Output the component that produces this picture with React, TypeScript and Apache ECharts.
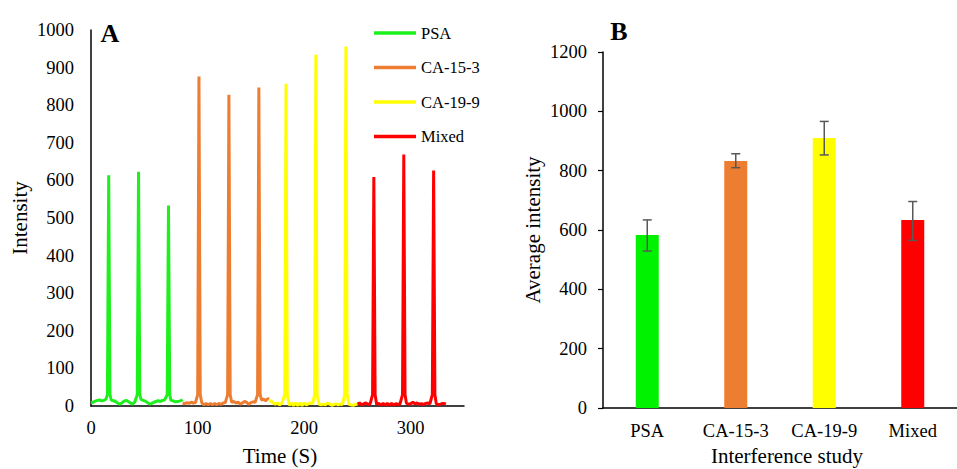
import React, { useEffect, useRef } from "react";
import * as echarts from "echarts";

// Panel A: time-resolved intensity traces
const psaTime = [0, 2, 4, 6, 8, 10, 12, 14, 15.4, 16.6, 17.8, 19, 21, 23, 25, 27, 29, 31, 33, 35, 37, 39, 41, 43.4, 44.6, 45.8, 47, 49, 51, 53, 55, 57, 59, 61, 63, 65, 67, 69, 71.5, 72.7, 73.9, 75, 77, 79, 81, 83, 85, 86];
const psaValue = [8, 10, 13, 15, 16, 14, 15, 18, 30, 614, 30, 16, 14, 12, 8, 5, 8, 13, 15, 12, 8, 5, 10, 30, 623, 30, 17, 15, 13, 9, 5, 7, 10, 12, 14, 12, 15, 16, 30, 533, 30, 15, 14, 11, 12, 13, 15, 17];

const ca153Time = [86, 88, 90, 92, 94, 96, 98, 100.1, 101.3, 102.5, 104, 106, 108, 110, 112, 114, 116, 118, 120, 122, 124, 126, 128.2, 129.4, 130.6, 132, 134, 136, 138, 140, 142, 144, 146, 148, 150, 152, 154, 156.3, 157.5, 158.7, 160, 162, 164, 166, 167];
const ca153Value = [8, 6, 9, 7, 10, 8, 9, 30, 876, 30, 8, 3, 7, 3, 7, 3, 7, 3, 7, 4, 8, 9, 30, 828, 30, 10, 12, 8, 10, 5, 8, 12, 10, 4, 9, 11, 10, 30, 847, 30, 16, 18, 14, 20, 18];

const ca199Time = [167, 169, 171, 173, 175, 177, 179, 181.8, 183, 184.2, 186, 188, 190, 192, 194, 196, 198, 200, 202, 204, 206, 208, 209.8, 211, 212.2, 214, 216, 218, 220, 222, 224, 226, 228, 230, 232, 234, 236, 238, 239.2, 240.4, 242, 244, 246, 248, 250];
const ca199Value = [12, 14, 8, 5, 8, 3, 7, 30, 857, 30, 2, 8, 1, 8, 1, 8, 1, 8, 3, 6, 8, 7, 30, 934, 30, 5, 3, 5, 3, 8, 5, 2, 4, 6, 3, 5, 4, 30, 956, 30, 5, 3, 2, 4, 5];

const mixedTime = [250, 252, 254, 256, 258, 260, 262, 264.2, 265.4, 266.6, 268, 270, 272, 274, 276, 278, 280, 282, 284, 286, 288, 290, 292.3, 293.5, 294.7, 296, 298, 300, 302, 304, 306, 308, 310, 312, 314, 316, 318, 320.3, 321.5, 322.7, 324, 326, 328, 330, 332, 333];
const mixedValue = [5, 8, 3, 6, 8, 4, 6, 30, 609, 30, 4, 7, 2, 7, 2, 7, 2, 7, 3, 6, 4, 6, 30, 669, 30, 7, 5, 6, 10, 6, 8, 5, 6, 4, 7, 8, 6, 30, 626, 30, 6, 3, 5, 7, 6, 5];

// Panel B: average intensity with error bars
const categories = ["PSA", "CA-15-3", "CA-19-9", "Mixed"];
const avgIntensity = [583, 833, 910, 634];
const errUpper = [634, 857, 966, 696];
const errLower = [529, 810, 853, 565];

const colors = ["#00F200", "#ED7D31", "#FFFF00", "#FF0000"];
const lineColors = ["#1EF01E", "#ED7D31", "#FFFF00", "#FF0000"];

const FONT = "Liberation Serif, Times New Roman, serif";

function pairs(t: number[], v: number[]) {
  return t.map((x, i) => [x, v[i]]);
}

export default function App() {
  const ref = useRef<HTMLDivElement>(null);
  useEffect(() => {
    if (!ref.current) return;
    const chart = echarts.init(ref.current, undefined, { renderer: "svg" });
    const lineNames = ["PSA", "CA-15-3", "CA-19-9", "Mixed"];
    const lineData = [
      pairs(psaTime, psaValue),
      pairs(ca153Time, ca153Value),
      pairs(ca199Time, ca199Value),
      pairs(mixedTime, mixedValue),
    ];
    const axisText = {
      color: "#000",
      fontFamily: FONT,
      fontSize: 18.5,
      formatter: (v: any) => String(v),
    };
    chart.setOption({
      animation: false,
      backgroundColor: "#fff",
      textStyle: { fontFamily: FONT },
      grid: [
        { left: 91, top: 30, right: 493, bottom: 63 },
        { left: 603, top: 52, right: -13, bottom: 61 },
      ],
      legend: {
        orient: "vertical",
        left: 369,
        top: 19.5,
        icon: "rect",
        itemWidth: 42,
        itemHeight: 3.5,
        itemGap: 17.5,
        data: lineNames,
        textStyle: { color: "#000", fontFamily: FONT, fontSize: 16.5 },
      },
      xAxis: [
        {
          type: "value",
          gridIndex: 0,
          min: 0,
          max: 350,
          interval: 100,
          splitLine: { show: false },
          axisTick: { show: false },
          axisLine: { lineStyle: { color: "#000", width: 1.5 } },
          axisLabel: { ...axisText, margin: 12, showMaxLabel: false },
        },
        {
          type: "category",
          gridIndex: 1,
          data: categories,
          axisTick: { show: false },
          axisLine: { lineStyle: { color: "#000", width: 1.5 } },
          axisLabel: { color: "#000", fontFamily: FONT, fontSize: 18.5, margin: 13 },
        },
      ],
      yAxis: [
        {
          type: "value",
          gridIndex: 0,
          min: 0,
          max: 1000,
          interval: 100,
          splitLine: { show: false },
          axisTick: { show: false },
          axisLine: { show: true, lineStyle: { color: "#000", width: 1.5 } },
          axisLabel: { ...axisText, margin: 17 },
        },
        {
          type: "value",
          gridIndex: 1,
          min: 0,
          max: 1200,
          interval: 200,
          splitLine: { show: false },
          axisTick: { show: true, length: 5, lineStyle: { color: "#000", width: 1.2 } },
          axisLine: { show: true, lineStyle: { color: "#000", width: 1.5 } },
          axisLabel: { ...axisText, margin: 16 },
        },
      ],
      series: [
        ...lineNames.map((name, i) => ({
          name,
          type: "line",
          xAxisIndex: 0,
          yAxisIndex: 0,
          data: lineData[i],
          symbol: "none",
          showSymbol: false,
          color: lineColors[i],
          itemStyle: { color: lineColors[i] },
          lineStyle: { color: lineColors[i], width: 3 },
          z: 2 + i,
        })),
        {
          type: "bar",
          xAxisIndex: 1,
          yAxisIndex: 1,
          barWidth: 23,
          data: avgIntensity.map((v, i) => ({ value: v, itemStyle: { color: colors[i] } })),
        },
        {
          type: "custom",
          xAxisIndex: 1,
          yAxisIndex: 1,
          z: 10,
          data: categories.map((_, i) => [i, errLower[i], errUpper[i]]),
          renderItem: (params: any, api: any) => {
            const idx = api.value(0);
            const lo = api.coord([idx, api.value(1)]);
            const hi = api.coord([idx, api.value(2)]);
            const hw = 4.5;
            const style = { stroke: "#595959", lineWidth: 1.5, fill: "none" };
            return {
              type: "group",
              children: [
                { type: "line", shape: { x1: lo[0], y1: lo[1], x2: hi[0], y2: hi[1] }, style },
                { type: "line", shape: { x1: hi[0] - hw, y1: hi[1], x2: hi[0] + hw, y2: hi[1] }, style },
                { type: "line", shape: { x1: lo[0] - hw, y1: lo[1], x2: lo[0] + hw, y2: lo[1] }, style },
              ],
            };
          },
        },
      ],
      graphic: [
        {
          type: "text",
          x: 110,
          y: 33,
          style: { text: "A", font: `bold 26px ${FONT}`, fill: "#000", align: "center", verticalAlign: "middle" },
        },
        {
          type: "text",
          x: 619,
          y: 31,
          style: { text: "B", font: `bold 26px ${FONT}`, fill: "#000", align: "center", verticalAlign: "middle" },
        },
        {
          type: "text",
          x: 20,
          y: 218,
          rotation: Math.PI / 2,
          style: { text: "Intensity", font: `21px ${FONT}`, fill: "#000", align: "center", verticalAlign: "middle" },
        },
        {
          type: "text",
          x: 280,
          y: 456,
          style: { text: "Time (S)", font: `21px ${FONT}`, fill: "#000", align: "center", verticalAlign: "middle" },
        },
        {
          type: "text",
          x: 533,
          y: 230,
          rotation: Math.PI / 2,
          style: { text: "Average intensity", font: `21px ${FONT}`, fill: "#000", align: "center", verticalAlign: "middle" },
        },
        {
          type: "text",
          x: 787,
          y: 456,
          style: { text: "Interference study", font: `21px ${FONT}`, fill: "#000", align: "center", verticalAlign: "middle" },
        },
      ],
    });
    return () => chart.dispose();
  }, []);
  return (
    <div
      ref={ref}
      style={{ position: "absolute", left: 0, top: 0, width: 957, height: 469, overflow: "hidden" }}
    />
  );
}
